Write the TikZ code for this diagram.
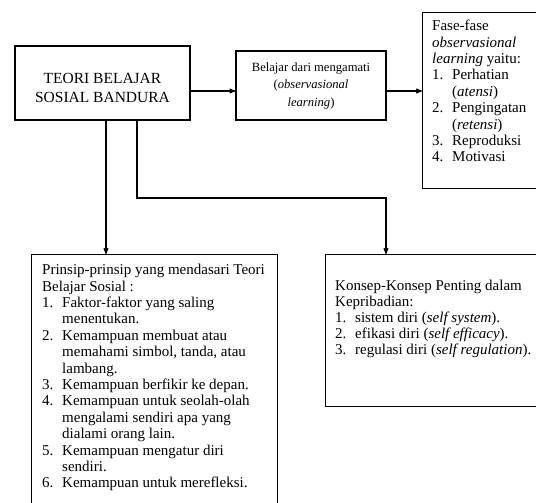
\documentclass[tikz,border=0pt]{standalone}
\usepackage{fontspec}
\setmainfont{Liberation Serif}
\usetikzlibrary{arrows}
\usetikzlibrary{calc}
\tikzset{box/.style = {draw, line width=1.2pt, inner sep=0pt}}
\tikzset{txt/.style = {align=left, inner sep=0pt, font=\fontsize{15}{16.4}\selectfont}}
\tikzset{arr/.style = {line width=1.1pt, ->, >=stealth'}}
\newcommand{\lnum}[1]{\makebox[20pt][l]{#1}}
\newcommand{\lind}{\hspace*{20pt}}

\begin{document}
\begin{tikzpicture}[x=1pt, y=-1pt]
\useasboundingbox (0,0) rectangle (536,503);
% top row
\node[box, line width=2.6pt, minimum width=175pt, minimum height=74pt] (teori) at (102.5,83) {};
\node[align=center, inner sep=0pt, font=\fontsize{15.5}{19}\selectfont] (teoritxt) at ([yshift=-5pt]teori.center) {TEORI BELAJAR\\SOSIAL BANDURA};
\node[box, minimum width=150pt, minimum height=69pt, align=center, font=\fontsize{12.6}{17.5}\selectfont] (amati) at (311,85.5) {Belajar dari mengamati\\(\textit{observasional}\\\textit{learning})};
\node[box, anchor=north west, minimum width=140pt, minimum height=176pt] (fase) at (422,12) {};
\node[txt, anchor=north west] (fasetxt) at ([shift={(10pt,-8pt)}]fase.north west) {Fase-fase\\
\textit{observasional}\\
\textit{learning} yaitu:\\
\lnum{1.}Perhatian\\
\lind(\textit{atensi})\\
\lnum{2.}Pengingatan\\
\lind(\textit{retensi})\\
\lnum{3.}Reproduksi\\
\lnum{4.}Motivasi};
% bottom row
\node[box, anchor=north west, minimum width=246pt, minimum height=270pt] (prinsip) at (31,254) {};
\node[txt, anchor=north west] (prinsiptxt) at ([shift={(11pt,-10pt)}]prinsip.north west) {Prinsip-prinsip yang mendasari Teori\\
Belajar Sosial :\\
\lnum{1.}Faktor-faktor yang saling\\
\lind menentukan.\\
\lnum{2.}Kemampuan membuat atau\\
\lind memahami simbol, tanda, atau\\
\lind lambang.\\
\lnum{3.}Kemampuan berfikir ke depan.\\
\lnum{4.}Kemampuan untuk seolah-olah\\
\lind mengalami sendiri apa yang\\
\lind dialami orang lain.\\
\lnum{5.}Kemampuan mengatur diri\\
\lind sendiri.\\
\lnum{6.}Kemampuan untuk merefleksi.};
\node[box, anchor=north west, minimum width=235pt, minimum height=152pt] (konsep) at (325,254) {};
\node[txt, anchor=north west, font=\fontsize{15}{16}\selectfont] (konseptxt) at ([shift={(10pt,-26pt)}]konsep.north west) {Konsep-Konsep Penting dalam\\
Kepribadian:\\
\lnum{1.}sistem diri (\textit{self system}).\\
\lnum{2.}efikasi diri (\textit{self efficacy}).\\
\lnum{3.}regulasi diri (\textit{self regulation}).};
% connectors
\coordinate (belok) at (386,198);
\draw[arr] ([yshift=-8pt]teori.east) -- ([yshift=-8pt]teori.east -| amati.west);
\draw[arr] ([yshift=-8pt]teori.east -| amati.east) -- ([yshift=-8pt]teori.east -| fase.west);
\draw[arr] ([xshift=3.5pt]teori.south) -- ([xshift=3.5pt]teori.south |- prinsip.north);
\draw[arr] ([xshift=34.5pt]teori.south) |- (belok) -- (belok |- konsep.north);
\end{tikzpicture}
\end{document}
